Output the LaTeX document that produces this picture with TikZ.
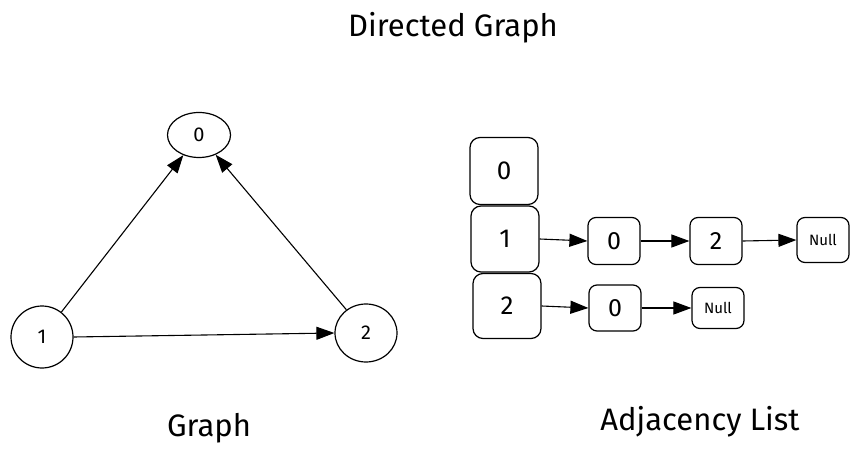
\documentclass[tikz,border=0pt]{standalone}
\usepackage{fontspec}
\setmainfont{Fira Sans}
\usetikzlibrary{arrows.meta,shapes.geometric}
\begin{document}
\begin{tikzpicture}[x=1pt,y=-1pt,
  gnode/.style={draw,line width=1.2pt,ellipse,inner sep=0pt,font=\fontsize{20}{20}\selectfont},
  bigbox/.style={draw,line width=1.2pt,rounded corners=10pt,inner sep=0pt,font=\fontsize{26}{26}\selectfont},
  smallbox/.style={draw,line width=1.2pt,rounded corners=8pt,inner sep=0pt,font=\fontsize{25}{25}\selectfont},
  nullbox/.style={draw,line width=1.2pt,rounded corners=8pt,inner sep=0pt,font=\fontsize{15}{15}\selectfont},
  edge/.style={line width=1.1pt,-{Triangle[length=18pt,width=13pt]}},
  title/.style={font=\fontsize{31}{31}\selectfont}]
\useasboundingbox (0,0) rectangle (859,454);
% titles
\node[title] (t) at (453,28) {Directed Graph};
\node[title] (g) at (209,428) {Graph};
\node[title] (a) at (700,422) {Adjacency List};
% graph
\node[gnode,minimum width=63pt,minimum height=45pt] (n0) at (199,135) {0};
\node[gnode,minimum width=62pt,minimum height=62pt] (n1) at (42,337) {1};
\node[gnode,minimum width=62pt,minimum height=58pt] (n2) at (366,333) {2};
\draw[edge] (n1) -- (n0);
\draw[edge] (n2) -- (n0);
\draw[edge] (n1.east) -- (n2.west);
% adjacency list
\node[bigbox,minimum width=68pt,minimum height=67pt] (b0) at (504,171) {0};
\node[bigbox,minimum width=68pt,minimum height=66pt] (b1) at (505,239) {1};
\node[bigbox,minimum width=68pt,minimum height=65pt] (b2) at (507,306) {2};
\node[smallbox,minimum width=52pt,minimum height=47pt] (r10) at (614,241) {0};
\node[smallbox,minimum width=52pt,minimum height=47pt] (r12) at (716,241) {2};
\node[nullbox,minimum width=52pt,minimum height=45pt] (r1n) at (823,240) {Null};
\node[smallbox,minimum width=52pt,minimum height=46pt] (r20) at (615,308) {0};
\node[nullbox,minimum width=52pt,minimum height=41pt] (r2n) at (718,308) {Null};
\draw[edge] (b1.east) -- (r10.west);
\draw[edge] (r10.east) -- (r12.west);
\draw[edge] (r12.east) -- (r1n.west);
\draw[edge] (b2.east) -- (r20.west);
\draw[edge] (r20.east) -- (r2n.west);
\end{tikzpicture}
\end{document}
